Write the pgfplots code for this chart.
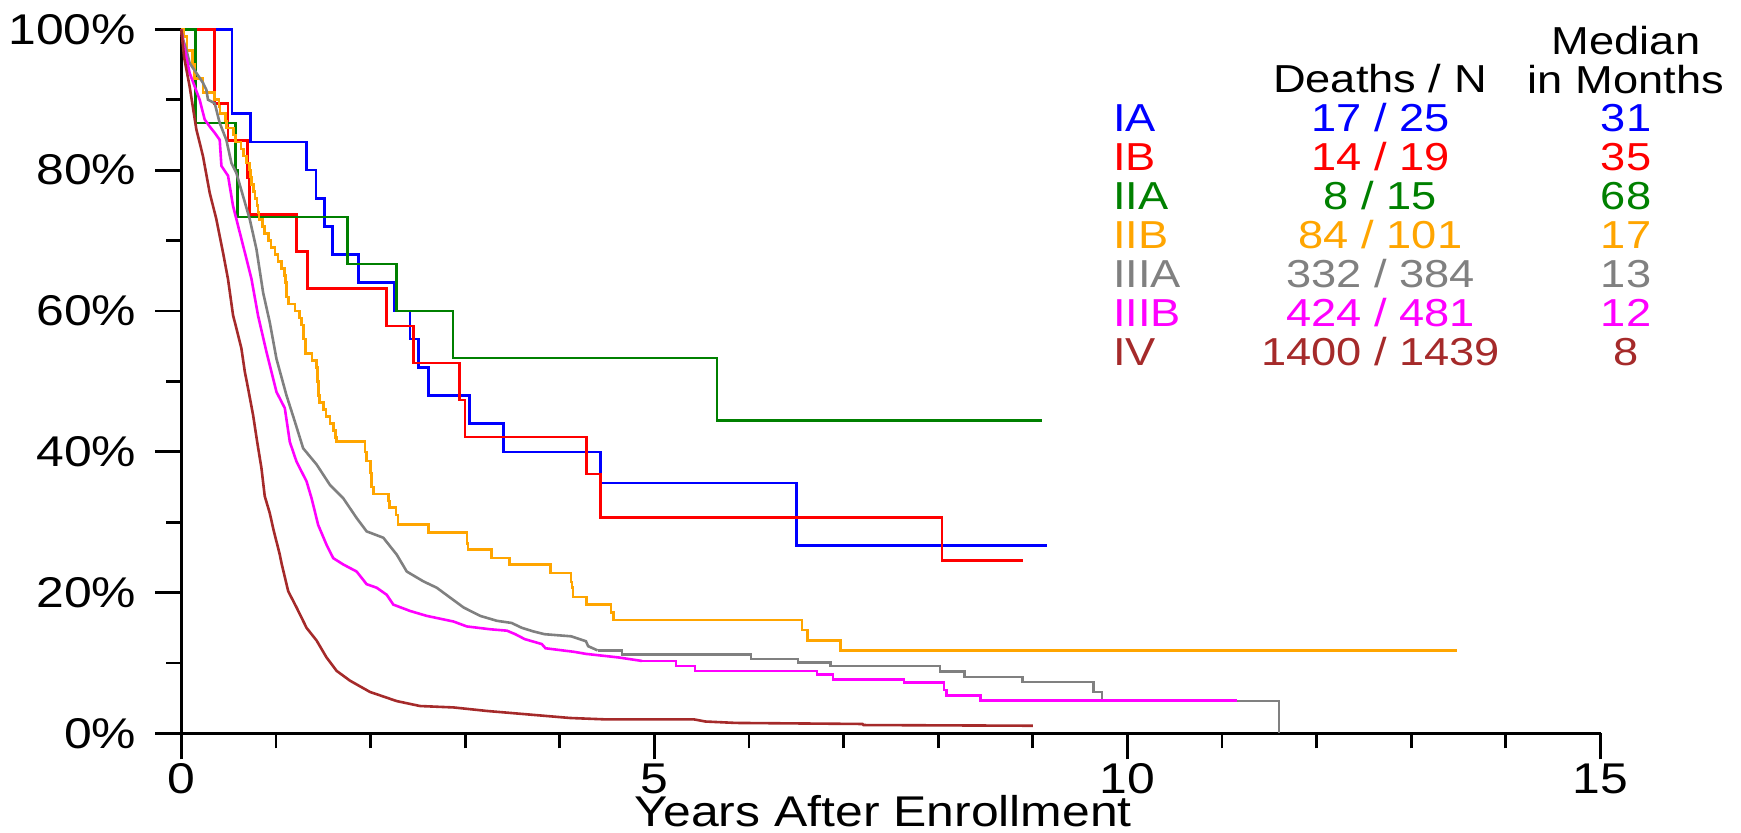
\documentclass[border=0pt]{standalone}
\usepackage{pgfplots}
\pgfplotsset{compat=1.18}
\usepackage{fontspec}
\setmainfont{Liberation Sans}
\usepackage{graphicx}
\newcommand{\sx}[1]{\scalebox{1.16}[1]{#1}}
\newcommand{\lx}[1]{\scalebox{1.16}[1]{#1}}
\definecolor{cIA}{RGB}{0,0,255}
\definecolor{cIB}{RGB}{255,0,0}
\definecolor{cIIA}{RGB}{0,128,0}
\definecolor{cIIB}{RGB}{255,165,0}
\definecolor{cIIIA}{RGB}{128,128,128}
\definecolor{cIIIB}{RGB}{255,0,255}
\definecolor{cIV}{RGB}{165,42,42}
\begin{document}
\begin{tikzpicture}
\useasboundingbox (-90.65pt,-49.75pt) rectangle (779.85pt,366.75pt);
\begin{axis}[
  at={(0pt,0pt)}, anchor=south west,
  width=709.6pt, height=352.1pt, scale only axis,
  xmin=0, xmax=15, ymin=0, ymax=100,
  axis lines=left,
  axis line style={line width=1.4pt, -},
  tick style={line width=1.4pt, black},
  tick align=outside,
  major tick length=13pt, minor tick length=7.5pt,
  xtick={0,5,10,15}, xticklabels={\sx{0},\sx{5},\sx{10},\sx{15}},
  minor x tick num=4,
  ytick={0,20,40,60,80,100},
  yticklabels={\sx{0\%},\sx{20\%},\sx{40\%},\sx{60\%},\sx{80\%},\sx{100\%}},
  minor y tick num=1,
  tick label style={font=\fontsize{21.5}{24}\selectfont, inner sep=0pt},
  xticklabel style={anchor=north, yshift=-1.9pt},
  yticklabel style={anchor=east, xshift=-9.4pt},
  clip=false, no markers,
  every axis plot/.append style={line width=1.3pt},
]
% IA
\addplot[const plot, cIA] coordinates {(0,100)(0.537,88)(0.734,84)(1.324,80)(1.422,76)(1.514,72)(1.599,68)(1.871,64)(2.248,60)(2.418,56)(2.506,52)(2.612,48)(3.046,44)(3.406,40)(4.43,35.56)(6.50,26.67)(9.15,26.67)};
% IB
\addplot[const plot, cIB] coordinates {(0,100)(0.353,89.47)(0.494,84.21)(0.699,78.95)(0.724,73.68)(1.218,68.42)(1.331,63.16)(2.171,57.89)(2.453,52.63)(2.94,47.37)(3.0,42.11)(4.28,36.84)(4.43,30.70)(8.04,24.56)(8.90,24.56)};
% IIA
\addplot[const plot, cIIA] coordinates {(0,100)(0.148,86.67)(0.572,80)(0.593,73.33)(1.754,66.67)(2.277,60)(2.87,53.33)(5.66,44.44)(9.10,44.44)};
% IIB
\addplot[const plot, cIIB] coordinates {(0,100)(0.03,99)(0.06,97)(0.12,95)(0.14,93)(0.23,91)(0.35,90)(0.40,89)(0.41,88)(0.47,87)(0.48,86)(0.55,85)(0.57,84)(0.63,83)(0.66,82)(0.69,81)(0.72,80)(0.73,79)(0.74,78)(0.76,77)(0.78,76)(0.80,75)(0.81,74)(0.82,73)(0.86,72)(0.88,71)(0.92,70)(0.95,69)(0.99,68)(1.02,67)(1.06,66)(1.09,65)(1.10,64)(1.11,62)(1.13,61)(1.20,60)(1.25,59)(1.27,58)(1.29,56)(1.31,54)(1.38,53)(1.43,52)(1.44,50)(1.45,48)(1.46,47)(1.50,46)(1.53,45)(1.57,44)(1.61,43)(1.63,42)(1.64,41.5)(1.94,40)(1.96,38.7)(2.00,37)(2.01,35)(2.03,34)(2.19,33)(2.20,32.1)(2.27,31)(2.29,29.7)(2.61,28.5)(3.02,27)(3.03,26.1)(3.28,24.9)(3.47,24)(3.90,22.8)(4.12,21.5)(4.13,20.7)(4.14,19.4)(4.28,18.3)(4.54,17.2)(4.57,16.1)(6.56,14.7)(6.62,13.2)(6.97,11.8)(13.48,11.8)};
% IIIA
\addplot[cIIIA] coordinates {(0,100)(0.02,98.5)(0.053,97.1)(0.088,95.2)(0.159,93.8)(0.229,92.4)(0.265,91.4)(0.282,90.0)(0.353,89.5)(0.406,86.7)(0.476,84.3)(0.53,81.0)(0.582,79.6)(0.653,76.3)(0.724,73.0)(0.794,68.8)(0.865,62.6)(0.935,58.4)(1.006,53.2)(1.112,48.0)(1.2,44.3)(1.288,40.5)(1.43,38.2)(1.571,35.3)(1.712,33.4)(1.853,30.6)(1.959,28.7)(2.135,27.8)(2.277,25.4)(2.383,23.0)(2.559,21.6)(2.7,20.7)(2.841,19.3)(2.983,17.9)(3.159,16.7)(3.336,16.0)(3.49,15.7)(3.6,15.0)(3.72,14.5)(3.84,14.1)(4.12,13.8)(4.277,13.1)(4.3,12.4)(4.4,11.8)};
\addplot[const plot, cIIIA] coordinates {(4.4,11.8)(4.66,11.2)(6.02,10.6)(6.52,10.1)(6.86,9.6)(8.02,8.8)(8.28,8.0)(8.89,7.3)(9.64,5.9)(9.73,4.6)(11.6,0)};
% IIIB
\addplot[cIIIB] coordinates {(0,100)(0.02,98)(0.053,96.1)(0.088,93.8)(0.141,91.9)(0.194,90.0)(0.247,87.2)(0.3,86.2)(0.353,85.3)(0.406,84.3)(0.424,80.6)(0.494,79.2)(0.547,74.9)(0.6,72.1)(0.653,69.3)(0.741,64.6)(0.812,59.3)(0.9,54.2)(1.006,48.5)(1.094,46.2)(1.147,41.4)(1.218,38.6)(1.324,35.8)(1.377,33.4)(1.447,29.6)(1.535,26.8)(1.606,24.9)(1.712,24.0)(1.853,23.0)(1.959,21.2)(2.065,20.7)(2.171,19.7)(2.241,18.3)(2.418,17.4)(2.594,16.7)(2.877,15.9)(3.018,15.2)(3.265,14.8)(3.442,14.6)(3.53,14.1)(3.63,13.4)(3.81,12.7)(3.85,12.1)(4.15,11.6)(4.28,11.3)(4.62,10.8)(4.87,10.3)};
\addplot[const plot, cIIIB] coordinates {(4.87,10.3)(5.23,9.6)(5.43,8.9)(6.72,8.4)(6.89,7.7)(7.64,7.2)(8.06,6.2)(8.09,5.4)(8.45,4.7)(11.16,4.7)};
% IV
\addplot[cIV] coordinates {(0,100)(0.03,96)(0.088,91.9)(0.159,85.8)(0.229,82.0)(0.3,76.8)(0.371,73.0)(0.441,68.3)(0.494,64.5)(0.547,59.4)(0.6,56.6)(0.635,54.7)(0.671,51.4)(0.706,49.0)(0.759,45.2)(0.801,41.5)(0.847,37.7)(0.882,33.7)(0.935,31.3)(0.975,28.9)(1.041,25.4)(1.059,24.2)(1.13,20.2)(1.218,17.9)(1.324,15.0)(1.43,13.2)(1.535,10.8)(1.641,8.9)(1.783,7.5)(1.994,5.9)(2.277,4.6)(2.524,3.9)(2.877,3.7)(3.23,3.2)(3.583,2.8)(4.11,2.2)(4.49,2.0)(5.42,2.0)(5.54,1.7)(5.86,1.5)(7.2,1.35)(7.21,1.2)(9.0,1.1)};
\end{axis}
\node[anchor=base, inner sep=0pt, font=\fontsize{21.5}{24}\selectfont] at (351pt,-46.5pt) {\sx{Years After Enrollment}};
\begin{scope}[every node/.style={inner sep=0pt, font=\fontsize{19.5}{22}\selectfont}]
\node[anchor=base] at (599.35pt,320.4pt) {\lx{Deaths / N}};
\node[anchor=base] at (722.35pt,339.25pt) {\lx{Median}};
\node[anchor=base] at (722.35pt,320.2pt) {\lx{in Months}};
\node[anchor=base west, text=cIA] at (465.7pt,300.9pt) {\lx{IA}};
\node[anchor=base west, text=cIB] at (465.7pt,281.45pt) {\lx{IB}};
\node[anchor=base west, text=cIIA] at (465.7pt,262.0pt) {\lx{IIA}};
\node[anchor=base west, text=cIIB] at (465.7pt,242.55pt) {\lx{IIB}};
\node[anchor=base west, text=cIIIA] at (465.7pt,223.1pt) {\lx{IIIA}};
\node[anchor=base west, text=cIIIB] at (465.7pt,203.65pt) {\lx{IIIB}};
\node[anchor=base west, text=cIV] at (465.7pt,184.2pt) {\lx{IV}};
\node[anchor=base, text=cIA] at (599.6pt,300.9pt) {\lx{17 / 25}};
\node[anchor=base, text=cIB] at (599.6pt,281.45pt) {\lx{14 / 19}};
\node[anchor=base, text=cIIA] at (599.6pt,262.0pt) {\lx{8 / 15}};
\node[anchor=base, text=cIIB] at (599.6pt,242.55pt) {\lx{84 / 101}};
\node[anchor=base, text=cIIIA] at (599.6pt,223.1pt) {\lx{332 / 384}};
\node[anchor=base, text=cIIIB] at (599.6pt,203.65pt) {\lx{424 / 481}};
\node[anchor=base, text=cIV] at (599.6pt,184.2pt) {\lx{1400 / 1439}};
\node[anchor=base, text=cIA] at (722.35pt,300.9pt) {\lx{31}};
\node[anchor=base, text=cIB] at (722.35pt,281.45pt) {\lx{35}};
\node[anchor=base, text=cIIA] at (722.35pt,262.0pt) {\lx{68}};
\node[anchor=base, text=cIIB] at (722.35pt,242.55pt) {\lx{17}};
\node[anchor=base, text=cIIIA] at (722.35pt,223.1pt) {\lx{13}};
\node[anchor=base, text=cIIIB] at (722.35pt,203.65pt) {\lx{12}};
\node[anchor=base, text=cIV] at (722.35pt,184.2pt) {\lx{8}};
\end{scope}
\end{tikzpicture}
\end{document}
